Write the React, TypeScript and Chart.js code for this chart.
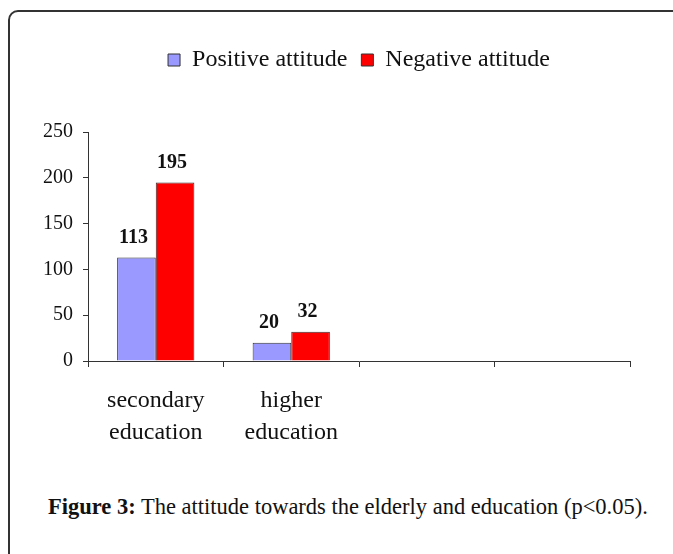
import React, { useEffect, useRef } from "react";
import { Chart, registerables } from "chart.js";

Chart.register(...registerables);

const categories: (string | string[])[] = [["secondary", "education"], ["higher", "education"], "", ""];
const positiveValues: (number | null)[] = [113, 20, null, null];
const negativeValues: (number | null)[] = [195, 32, null, null];
const yTicks = [0, 50, 100, 150, 200, 250];

const SERIF = "'Liberation Serif', 'Times New Roman', serif";

const valueLabels = {
  id: "valueLabels",
  afterDatasetsDraw(chart: any) {
    const ctx = chart.ctx;
    ctx.save();
    ctx.font = `bold 20px ${SERIF}`;
    ctx.fillStyle = "#111";
    ctx.textAlign = "center";
    ctx.textBaseline = "middle";
    chart.data.datasets.forEach((ds: any, i: number) => {
      const meta = chart.getDatasetMeta(i);
      meta.data.forEach((el: any, j: number) => {
        const v = ds.data[j];
        if (v === null || v === undefined) return;
        ctx.fillText(String(v), el.x - 3, el.y - 20);
      });
    });
    ctx.restore();
  },
};

const legendSpacer = {
  id: "legendSpacer",
  beforeInit(chart: any) {
    const legend = chart.legend;
    if (!legend) return;
    const origFit = legend.fit;
    legend.fit = function () {
      origFit.call(this);
      this.height += 50;
    };
  },
};

export default function App() {
  const ref = useRef<HTMLCanvasElement>(null);

  useEffect(() => {
    if (!ref.current) return;
    const chart = new Chart(ref.current, {
      type: "bar",
      data: {
        labels: categories,
        datasets: [
          {
            label: "Positive attitude",
            data: positiveValues,
            backgroundColor: "#9999FF",
            borderColor: "#333333",
            borderWidth: 1,
          },
          {
            label: "Negative attitude",
            data: negativeValues,
            backgroundColor: "#FF0000",
            borderColor: "#333333",
            borderWidth: 1,
          },
        ],
      },
      options: {
        responsive: false,
        animation: false,
        layout: { padding: { top: 34, left: 0, right: 43, bottom: 0 } },
        datasets: {
          bar: { categoryPercentage: 0.57, barPercentage: 1 },
        },
        plugins: {
          legend: {
            display: true,
            position: "top",
            fullSize: false,
            labels: {
              boxWidth: 12,
              boxHeight: 12,
              color: "#111",
              font: { family: SERIF, size: 24 },
              padding: 14,
            },
          },
          tooltip: { enabled: false },
        },
        scales: {
          x: {
            offset: true,
            grid: {
              offset: true,
              drawOnChartArea: false,
              drawTicks: true,
              tickLength: 6,
              color: "#333",
            },
            border: { display: true, color: "#333", width: 1 },
            ticks: {
              color: "#111",
              font: { family: SERIF, size: 24, lineHeight: 1.33 },
              padding: 18,
              maxRotation: 0,
              autoSkip: false,
            },
            afterFit(scale: any) {
              scale.height = 99;
            },
          },
          y: {
            min: 0,
            max: 250,
            afterBuildTicks(scale: any) {
              scale.ticks = yTicks.map((v) => ({ value: v }));
            },
            grid: {
              drawOnChartArea: false,
              drawTicks: true,
              tickLength: 5,
              color: "#333",
            },
            border: { display: true, color: "#333", width: 1 },
            ticks: {
              color: "#111",
              font: { family: SERIF, size: 20 },
              padding: 10,
            },
            afterFit(scale: any) {
              scale.width = 88;
            },
          },
        },
      } as any,
      plugins: [valueLabels, legendSpacer],
    });
    return () => chart.destroy();
  }, []);

  return (
    <div
      style={{
        position: "fixed",
        left: 0,
        top: 0,
        width: 673,
        height: 554,
        overflow: "hidden",
        background: "#fff",
      }}
    >
      <div
        style={{
          position: "absolute",
          left: 8,
          top: 10,
          width: 700,
          height: 600,
          border: "2px solid #333",
          borderRadius: 10,
          boxSizing: "border-box",
        }}
      />
      <canvas
        ref={ref}
        width={673}
        height={460}
        style={{ position: "absolute", left: 0, top: 0, width: 673, height: 460 }}
      />
      <div
        style={{
          position: "absolute",
          left: 48,
          top: 494,
          fontFamily: SERIF,
          fontSize: 22.5,
          lineHeight: "26px",
          color: "#111",
          whiteSpace: "nowrap",
        }}
      >
        <b>Figure 3:</b> The attitude towards the elderly and education (p&lt;0.05).
      </div>
    </div>
  );
}
